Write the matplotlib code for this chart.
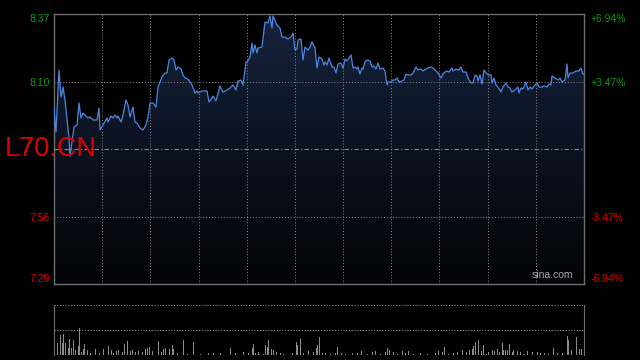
import numpy as np
import matplotlib.pyplot as plt
from matplotlib.colors import LinearSegmentedColormap
from matplotlib.patches import Polygon

# minutes from open (session = 530 min), last price
minutes = [0, 2, 5, 7, 9, 11, 15, 16, 20, 23, 25, 27, 29, 34, 36, 39, 43, 45, 46, 49,
           53, 54, 57, 59, 61, 63, 64, 67, 69, 72, 74, 76, 79, 81, 83, 86, 89, 92, 94, 96,
           99, 102, 104, 108, 111, 113, 115, 118, 120, 122, 124, 127, 129, 131, 134, 138, 141, 143, 144, 148,
           153, 155, 158, 159, 162, 166, 169, 173, 176, 179, 182, 184, 187, 189, 192, 194, 196, 198, 199, 201,
           203, 204, 208, 211, 214, 216, 218, 219, 223, 226, 228, 231, 234, 237, 239, 241, 243, 244, 247, 249,
           251, 254, 256, 258, 261, 263, 265, 268, 270, 271, 273, 275, 278, 280, 282, 284, 287, 289, 291, 293,
           295, 297, 299, 301, 303, 304, 306, 308, 309, 311, 313, 316, 318, 320, 322, 324, 326, 329, 331, 333,
           334, 337, 339, 341, 343, 345, 348, 350, 352, 354, 357, 359, 362, 364, 367, 369, 372, 374, 377, 379,
           382, 384, 387, 389, 391, 393, 395, 398, 399, 402, 405, 407, 409, 412, 414, 417, 419, 421, 423, 424,
           426, 428, 430, 433, 435, 437, 438, 440, 442, 444, 447, 449, 452, 454, 456, 458, 461, 464, 465, 467,
           469, 472, 474, 476, 478, 480, 483, 485, 488, 490, 493, 495, 497, 498, 501, 504, 506, 508, 511, 513,
           514, 516, 519, 522, 525, 527, 529, 530]
prices = [7.994, 7.898, 8.146, 8.038, 8.078, 8.026, 7.874, 7.802, 7.918, 7.926, 8.014, 7.954, 7.974, 7.954, 7.958, 7.946, 7.946, 7.994, 7.906, 7.926,
          7.954, 7.938, 7.962, 7.954, 7.966, 7.954, 7.962, 7.938, 7.966, 8.026, 8.006, 7.958, 7.998, 7.938, 7.934, 7.914, 7.906, 7.926, 7.958, 8.014,
          8.014, 7.998, 8.078, 8.118, 8.134, 8.134, 8.186, 8.194, 8.186, 8.146, 8.158, 8.150, 8.126, 8.114, 8.110, 8.086, 8.054, 8.062, 8.054, 8.062,
          8.062, 8.018, 8.034, 8.042, 8.022, 8.082, 8.058, 8.066, 8.074, 8.086, 8.066, 8.102, 8.106, 8.086, 8.178, 8.182, 8.198, 8.254, 8.214, 8.246,
          8.214, 8.234, 8.238, 8.338, 8.334, 8.362, 8.314, 8.362, 8.326, 8.314, 8.278, 8.278, 8.270, 8.278, 8.294, 8.226, 8.230, 8.266, 8.270, 8.186,
          8.238, 8.226, 8.238, 8.258, 8.234, 8.154, 8.198, 8.190, 8.166, 8.178, 8.166, 8.194, 8.158, 8.158, 8.134, 8.170, 8.174, 8.154, 8.190, 8.182,
          8.194, 8.206, 8.154, 8.158, 8.150, 8.158, 8.130, 8.154, 8.150, 8.178, 8.186, 8.182, 8.158, 8.162, 8.150, 8.174, 8.150, 8.154, 8.142, 8.086,
          8.098, 8.098, 8.106, 8.106, 8.114, 8.098, 8.102, 8.106, 8.130, 8.126, 8.126, 8.134, 8.158, 8.146, 8.150, 8.142, 8.150, 8.154, 8.158, 8.154,
          8.142, 8.134, 8.114, 8.130, 8.138, 8.142, 8.138, 8.154, 8.142, 8.150, 8.146, 8.158, 8.138, 8.138, 8.114, 8.094, 8.094, 8.126, 8.122, 8.102,
          8.126, 8.090, 8.146, 8.130, 8.126, 8.126, 8.094, 8.114, 8.086, 8.078, 8.058, 8.078, 8.094, 8.078, 8.074, 8.058, 8.066, 8.078, 8.054, 8.074,
          8.070, 8.098, 8.066, 8.078, 8.070, 8.082, 8.094, 8.078, 8.078, 8.082, 8.078, 8.090, 8.086, 8.122, 8.114, 8.106, 8.114, 8.098, 8.106, 8.170,
          8.114, 8.134, 8.134, 8.142, 8.142, 8.154, 8.130, 8.130]

vol_minutes = [0, 3, 6, 8, 9, 11, 14, 15, 17, 19, 21, 24, 25, 27, 29, 30, 33, 36, 41, 45,
               49, 54, 57, 59, 62, 64, 68, 70, 73, 76, 78, 81, 84, 88, 91, 93, 95, 98, 104, 107,
               109, 111, 115, 118, 119, 123, 129, 133, 139, 146, 154, 159, 166, 176, 181, 189, 194, 198, 199, 201,
               204, 209, 211, 213, 214, 217, 219, 222, 226, 229, 238, 242, 243, 246, 249, 254, 259, 262, 263, 265,
               268, 271, 276, 281, 283, 287, 291, 298, 303, 307, 313, 318, 321, 326, 331, 333, 335, 339, 343, 348,
               351, 354, 359, 366, 373, 381, 384, 388, 390, 394, 399, 403, 408, 412, 415, 418, 419, 421, 424, 427,
               429, 432, 434, 438, 440, 443, 445, 448, 449, 451, 453, 455, 458, 459, 463, 466, 469, 473, 478, 483,
               486, 490, 494, 499, 503, 508, 513, 514, 517, 522, 525, 527, 530]
volumes = [100, 25, 40, 25, 43, 25, 15, 32, 15, 30, 10, 18, 54, 7, 12, 23, 10, 5, 12, 5,
           13, 18, 10, 5, 8, 10, 7, 23, 28, 8, 10, 7, 8, 7, 13, 15, 17, 8, 28, 7,
           12, 15, 12, 20, 12, 5, 30, 3, 27, 3, 5, 5, 5, 15, 5, 7, 5, 15, 23, 5,
           7, 3, 21, 17, 30, 13, 10, 7, 5, 3, 5, 27, 20, 32, 5, 8, 7, 15, 20, 37,
           5, 5, 3, 5, 17, 5, 3, 5, 5, 8, 3, 7, 8, 3, 7, 15, 10, 7, 3, 8,
           5, 8, 3, 5, 3, 5, 8, 7, 17, 3, 5, 7, 10, 7, 10, 13, 19, 26, 30, 8,
           20, 3, 7, 10, 8, 12, 7, 25, 10, 11, 10, 23, 7, 10, 8, 7, 3, 8, 7, 7,
           5, 5, 3, 15, 5, 5, 38, 30, 10, 36, 12, 12, 25]

prev_close = 7.83
price_ticks = [8.37, 8.10, 7.56, 7.29]
pct_labels = ['+6.94%', '+3.47%', '-3.47%', '-6.94%']
session_len = 530
n_grid = 11

plt.rcParams['font.family'] = ['Liberation Sans', 'DejaVu Sans']
fig = plt.figure(figsize=(6.4, 3.6), dpi=100, facecolor='black')
ax = fig.add_axes([54/640, 1-284/360, 530/640, 270/360], facecolor='black')
axv = fig.add_axes([54/640, 1-355/360, 530/640, 50/360], facecolor='black')

lo, hi = price_ticks[-1], price_ticks[0]
ax.set_xlim(0, session_len)
ax.set_ylim(lo, hi)

# gradient fill under the line
cmap = LinearSegmentedColormap.from_list('fill', ['#030406', '#0b1220', '#17233d'])
grad = np.linspace(0, 1, 256).reshape(-1, 1)
im = ax.imshow(grad, cmap=cmap, origin='lower', aspect='auto',
               extent=[0, session_len, lo, max(prices)], zorder=1)
poly = Polygon(list(zip(minutes, prices)) + [(minutes[-1], lo), (minutes[0], lo)],
               closed=True, facecolor='none', edgecolor='none')
ax.add_patch(poly)
im.set_clip_path(poly)

ax.plot(minutes, prices, color='#4d86e0', lw=0.9, zorder=3)

# grid
for i in range(1, n_grid):
    ax.axvline(session_len * i / n_grid, color='#8a8a8a', lw=0.7, ls=(0, (1, 2)), zorder=2)
for p in price_ticks[1:-1]:
    ax.axhline(p, color='#8a8a8a', lw=0.7, ls=(0, (1, 2)), zorder=2)
ax.axhline(prev_close, color='#8a8a8a', lw=0.8, ls=(0, (4, 2, 1, 2)), zorder=2)

for s in ax.spines.values():
    s.set_color('#6e6e6e')
    s.set_linewidth(1)
ax.set_xticks([])
ax.set_yticks(price_ticks)
ax.set_yticklabels([f'{p:.2f}' for p in price_ticks])
ax.tick_params(axis='y', length=0, pad=3, labelsize=7.5)
ax.tick_params(axis='y', right=False, labelright=False)
axr = ax.twinx()
axr.set_ylim(lo, hi)
axr.set_yticks(price_ticks)
axr.set_yticklabels(pct_labels)
axr.tick_params(axis='y', length=0, pad=5, labelsize=7.5)
for s in axr.spines.values():
    s.set_visible(False)
for labels in (ax.get_yticklabels(), axr.get_yticklabels()):
    for lab, p in zip(labels, price_ticks):
        lab.set_color('#0c9a0c' if p > prev_close else '#e00000')
    labels[0].set_va('top')
    labels[-1].set_va('bottom')

ax.text(5/640, 1-149/360, 'L70.CN', transform=fig.transFigure, color='#e00000',
        fontsize=19.5, va='center', ha='left', zorder=5)
ax.text(0.98, 0.015, 'sina.com', transform=ax.transAxes, color='#aaaaaa',
        fontsize=7.5, ha='right', va='bottom', zorder=5)

# volume panel
axv.set_xlim(0, session_len)
axv.set_ylim(0, 100)
axv.bar(vol_minutes, volumes, width=1.0, color='#8c8c8c', align='edge')
axv.axhline(100, color='#8a8a8a', lw=0.8, ls=(0, (1, 1.5)))
axv.axhline(50, color='#8a8a8a', lw=0.8, ls=(0, (1, 1.5)))
for k in ('top', 'bottom'):
    axv.spines[k].set_visible(False)
for k in ('left', 'right'):
    axv.spines[k].set_color('#6e6e6e')
axv.set_xticks([])
axv.set_yticks([])

fig.savefig('out.png', dpi=100, facecolor='black')
